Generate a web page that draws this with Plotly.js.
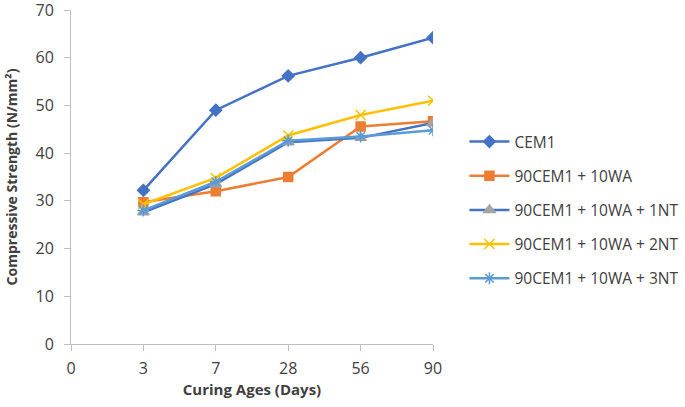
<!DOCTYPE html>
<html>
<head>
<meta charset="utf-8">
<script src="https://cdn.plot.ly/plotly-3.0.1.min.js"></script>
<style>html,body{margin:0;padding:0;background:#fff;}#chart{width:685px;height:407px;}</style>
</head>
<body>
<div id="chart"></div>
<script>
const axisCategories = ['0', '3', '7', '28', '56', '90'];
const days = ['3', '7', '28', '56', '90'];
const seriesNames = ['CEM1', '90CEM1 + 10WA', '90CEM1 + 10WA + 1NT', '90CEM1 + 10WA + 2NT', '90CEM1 + 10WA + 3NT'];
const cem1 = [32.2, 49.0, 56.2, 60.0, 64.2];
const wa10 = [29.7, 32.0, 35.0, 45.6, 46.7];
const nt1 = [27.6, 33.5, 42.3, 43.2, 46.3];
const nt2 = [29.3, 34.8, 43.7, 48.0, 51.0];
const nt3 = [28.0, 34.0, 42.6, 43.5, 44.8];

const styles = [
  {line: '#4472C4', marker: '#4472C4', symbol: 'diamond', size: 9},
  {line: '#ED7D31', marker: '#ED7D31', symbol: 'square', size: 9},
  {line: '#4472C4', marker: '#A5A5A5', symbol: 'triangle-up', size: 10},
  {line: '#FFC000', marker: '#FFC000', symbol: 'x-thin-open', size: 10},
  {line: '#5B9BD5', marker: '#5B9BD5', symbol: 'asterisk-open', size: 10}
];
const values = [cem1, wa10, nt1, nt2, nt3];

const traces = values.map((v, i) => ({
  type: 'scatter',
  mode: 'lines+markers',
  name: seriesNames[i],
  legendgroup: 'g' + i,
  x: days,
  y: v,
  line: {color: styles[i].line, width: 2.5},
  marker: {color: styles[i].marker, symbol: styles[i].symbol, size: styles[i].size,
           line: {color: styles[i].marker, width: 1.5}}
}));

const layout = {
  width: 685, height: 407,
  margin: {l: 71, r: 252, t: 10, b: 63},
  paper_bgcolor: '#fff', plot_bgcolor: '#fff',
  font: {family: 'Open Sans, sans-serif', color: '#404040'},
  showlegend: true,
  legend: {xref: 'container', yref: 'container', x: 0.678, xanchor: 'left',
           y: 1 - 210 / 407, yanchor: 'middle', traceorder: 'grouped',
           font: {size: 15.5, color: '#404040'}, tracegroupgap: 11, itemwidth: 40},
  xaxis: {
    type: 'category', categoryorder: 'array', categoryarray: axisCategories,
    range: [0, 5], showgrid: false, zeroline: false,
    showline: true, linecolor: '#BFBFBF', linewidth: 1,
    ticks: 'outside', ticklen: 6, tickcolor: '#BFBFBF', ticklabelstandoff: 4,
    tickfont: {size: 16, color: '#404040'}, ticklabeloverflow: 'allow',
    title: {text: '<b>Curing Ages (Days)</b>', font: {size: 15, color: '#404040'}, standoff: 6}
  },
  yaxis: {
    range: [0, 70], dtick: 10, showgrid: false, zeroline: false,
    showline: true, linecolor: '#BFBFBF', linewidth: 1,
    ticks: 'outside', ticklen: 6, tickcolor: '#BFBFBF', ticklabelstandoff: 7,
    tickfont: {size: 16, color: '#404040'}, ticklabeloverflow: 'allow',
    title: {text: '<b>Compressive Strength (N/mm²)</b>', font: {size: 14, color: '#404040'}, standoff: 14}
  }
};

Plotly.newPlot('chart', traces, layout, {displayModeBar: false, staticPlot: true});
</script>
</body>
</html>
